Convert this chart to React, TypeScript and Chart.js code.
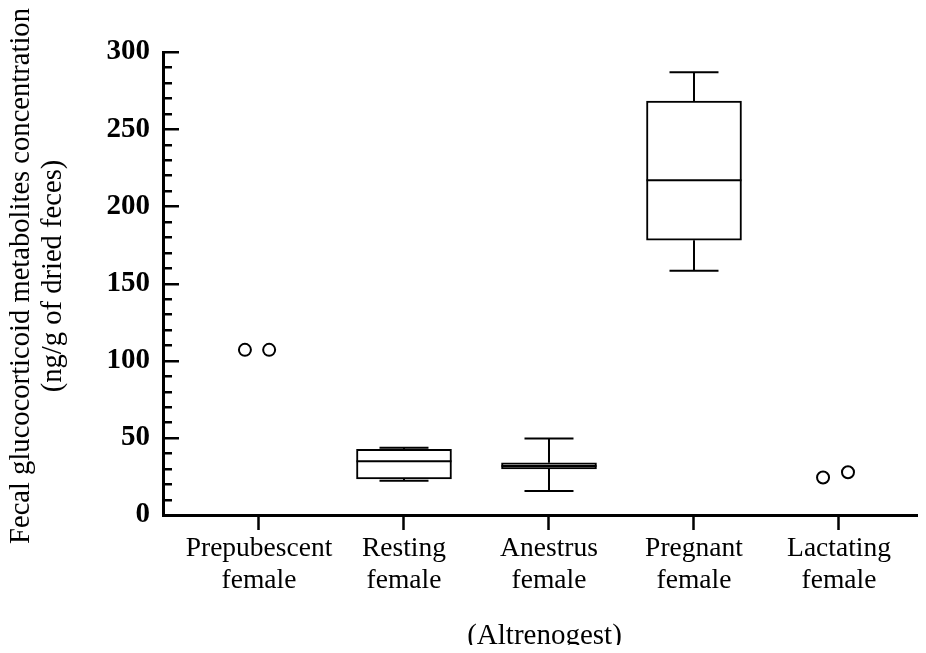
import React, { useEffect, useRef } from "react";
import { Chart, registerables } from "chart.js";

Chart.register(...registerables);

// ---- Data ----
const categories: string[][] = [
  ["Prepubescent", "female"],
  ["Resting", "female"],
  ["Anestrus", "female"],
  ["Pregnant", "female"],
  ["Lactating", "female"],
];
// Box plot summaries (null = no box)
const boxMin: (number | null)[] = [null, 22.2, 15.6, 158.3, null];
const boxQ1: (number | null)[] = [null, 23.4, 29.9, 178.0, null];
const boxMedian: (number | null)[] = [null, 34.8, 31.8, 216.9, null];
const boxQ3: (number | null)[] = [null, 42.6, 33.8, 268.2, null];
const boxMax: (number | null)[] = [null, 43.6, 49.6, 286.9, null];
// Individual points (groups with n = 2)
const pointCategory: number[] = [1, 1, 5, 5];
const pointValue: number[] = [107, 107, 24.3, 27.7];
const pointJitter: number[] = [-0.097, 0.07, -0.11, 0.062];

const yTitleLines = ["Fecal glucocorticoid metabolites concentration", "(ng/g of dried feces)"];
const xTitle = "(Altrenogest)";

const FONT = "'Liberation Serif', 'Times New Roman', serif";

const boxPlugin = {
  id: "boxExtras",
  afterDatasetsDraw(chart: any) {
    const { ctx, scales } = chart;
    const x = scales.x;
    const y = scales.y;
    ctx.save();
    ctx.strokeStyle = "#000";
    ctx.lineWidth = 2;
    const boxHalf = 47.5;
    const capHalf = 24.5;
    for (let i = 0; i < categories.length; i++) {
      if (boxMin[i] == null) continue;
      const cx = x.getPixelForValue(i + 1);
      const yMin = y.getPixelForValue(boxMin[i]);
      const yQ1 = y.getPixelForValue(boxQ1[i]);
      const yMed = y.getPixelForValue(boxMedian[i]);
      const yQ3 = y.getPixelForValue(boxQ3[i]);
      const yMax = y.getPixelForValue(boxMax[i]);
      ctx.beginPath();
      ctx.moveTo(cx, yQ3);
      ctx.lineTo(cx, yMax);
      ctx.moveTo(cx - capHalf, yMax);
      ctx.lineTo(cx + capHalf, yMax);
      ctx.moveTo(cx, yQ1);
      ctx.lineTo(cx, yMin);
      ctx.moveTo(cx - capHalf, yMin);
      ctx.lineTo(cx + capHalf, yMin);
      ctx.moveTo(cx - boxHalf, yMed);
      ctx.lineTo(cx + boxHalf, yMed);
      ctx.stroke();
    }
    ctx.restore();
  },
  afterDraw(chart: any) {
    const { ctx, scales, chartArea } = chart;
    const y = scales.y;
    ctx.save();
    ctx.strokeStyle = "#000";
    ctx.lineWidth = 2.5;
    ctx.beginPath();
    for (const t of y.ticks) {
      if (t.value === 0) continue;
      const py = Math.round(y.getPixelForValue(t.value)) + 0.25;
      const len = t.value % 50 === 0 ? 16 : 9;
      ctx.moveTo(chartArea.left, py);
      ctx.lineTo(chartArea.left + len, py);
    }
    ctx.stroke();
    ctx.fillStyle = "#000";
    ctx.font = `28.6px ${FONT}`;
    ctx.textAlign = "center";
    ctx.textBaseline = "middle";
    const cy = 276;
    const xs = [21, 53];
    yTitleLines.forEach((line, k) => {
      ctx.save();
      ctx.translate(xs[k], cy);
      ctx.rotate(-Math.PI / 2);
      ctx.fillText(line, 0, 0);
      ctx.restore();
    });
    ctx.restore();
  },
};

export default function App() {
  const ref = useRef<HTMLCanvasElement | null>(null);

  useEffect(() => {
    if (!ref.current) return;
    const boxData = categories
      .map((_, i) =>
        boxQ1[i] == null ? null : { x: i + 1, y: [boxQ1[i] as number, boxQ3[i] as number] }
      )
      .filter((d) => d !== null);
    const pts = pointValue.map((v, i) => ({ x: pointCategory[i] + pointJitter[i], y: v }));

    const chart = new Chart(ref.current, {
      type: "bar",
      data: {
        datasets: [
          {
            type: "bar",
            data: boxData as any,
            backgroundColor: "#fff",
            borderColor: "#000",
            borderWidth: 2,
            borderSkipped: false,
            barThickness: 95,
          } as any,
          {
            type: "scatter",
            data: pts,
            pointStyle: "circle",
            pointRadius: 6,
            pointBorderWidth: 2,
            pointBackgroundColor: "#fff",
            pointBorderColor: "#000",
          } as any,
        ],
      },
      options: {
        animation: false,
        responsive: false,
        events: [],
        layout: { autoPadding: false, padding: { top: 52, right: 0, bottom: 0, left: 0 } },
        plugins: { legend: { display: false }, tooltip: { enabled: false } },
        scales: {
          x: {
            type: "linear",
            min: 0.338,
            max: 5.6,
            offset: false,
            afterBuildTicks: (scale: any) => {
              scale.ticks = categories.map((_, i) => ({ value: i + 1 }));
            },
            afterFit: (scale: any) => {
              scale.height = 138;
              scale.paddingLeft = 0;
              scale.paddingRight = 0;
            },
            grid: {
              display: true,
              offset: false,
              drawOnChartArea: false,
              drawTicks: true,
              tickLength: 15,
              tickWidth: 2.5,
              tickColor: "#000",
            },
            border: { display: true, color: "#000", width: 3 },
            ticks: {
              autoSkip: false,
              maxRotation: 0,
              padding: 3,
              color: "#000",
              font: { family: FONT, size: 27.5, lineHeight: 1.17 },
              callback: (v: any) => categories[Math.round(v) - 1],
            },
            title: {
              display: true,
              text: xTitle,
              color: "#000",
              font: { family: FONT, size: 29, lineHeight: 1.1 },
              padding: { top: 0, bottom: 1 },
            },
          },
          y: {
            type: "linear",
            min: 0,
            max: 300,
            afterFit: (scale: any) => {
              scale.width = 163;
            },
            grid: { display: false, drawTicks: false },
            border: { display: true, color: "#000", width: 3 },
            ticks: {
              stepSize: 10,
              autoSkip: false,
              padding: 13,
              color: "#000",
              font: { family: FONT, size: 29, weight: "bold" },
              callback: (v: any) => (Number(v) % 50 === 0 ? String(v) : ""),
            },
          },
        },
      } as any,
      plugins: [boxPlugin],
    });
    return () => chart.destroy();
  }, []);

  return (
    <div style={{ margin: "-8px", width: 926, height: 653, background: "#fff" }}>
      <canvas ref={ref} width={926} height={653} style={{ display: "block" }} />
    </div>
  );
}
